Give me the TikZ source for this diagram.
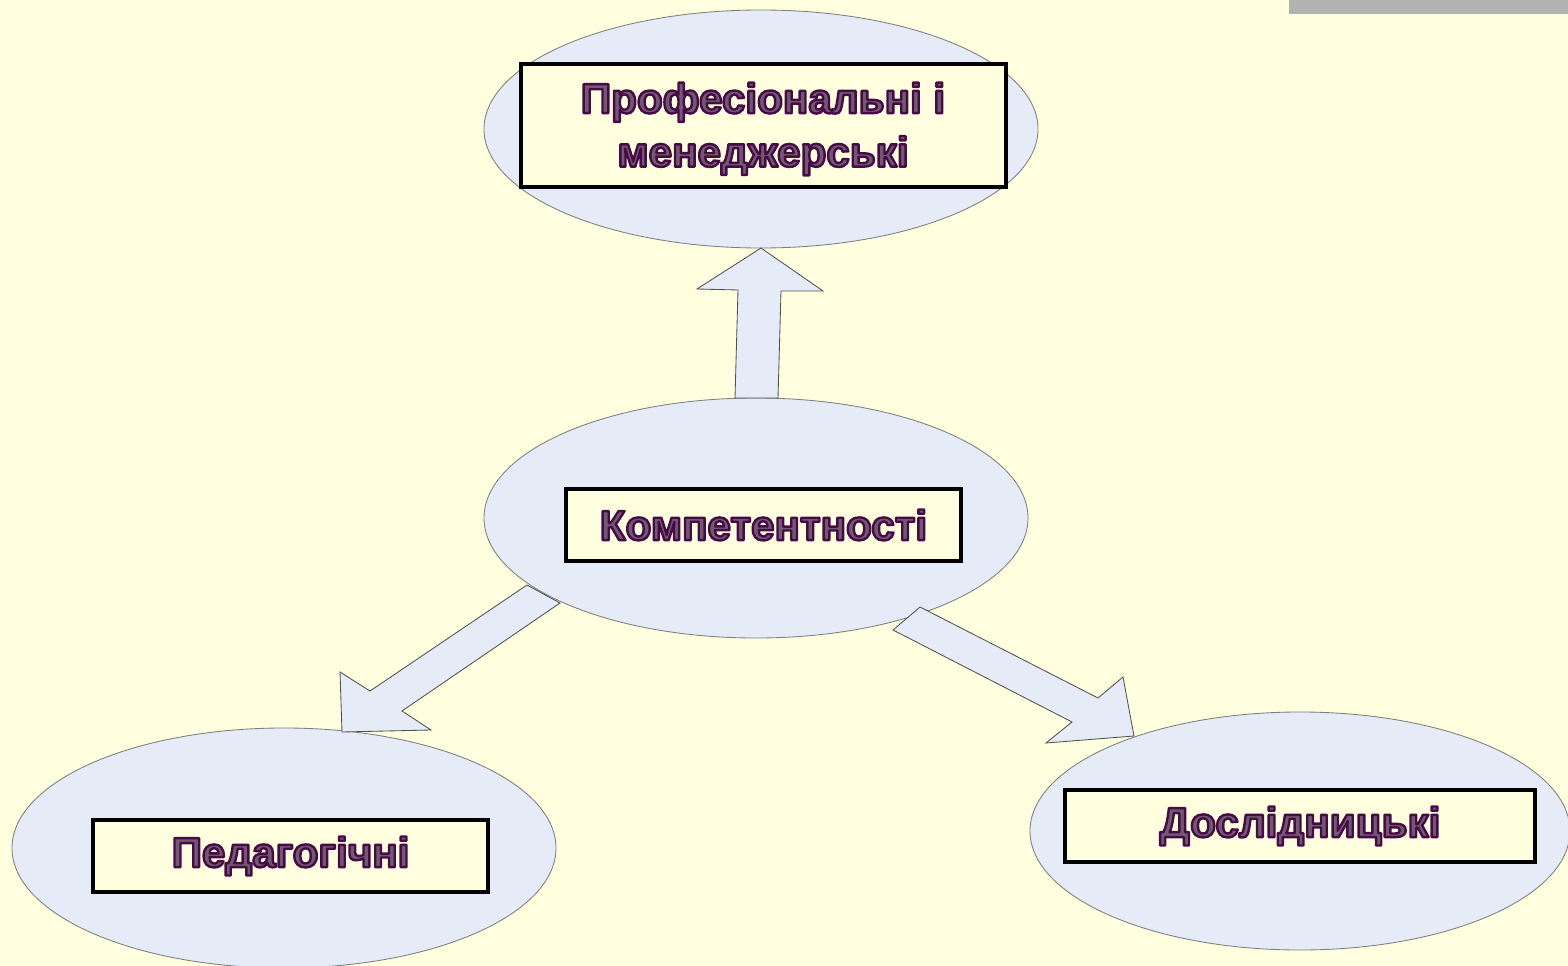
\documentclass[tikz,border=0pt]{standalone}
\usepackage{fontspec}
\setmainfont{Liberation Sans}
\usetikzlibrary{shapes.geometric}

\definecolor{paper}{RGB}{255,255,224}
\definecolor{bubble}{RGB}{229,236,248}
\definecolor{rim}{RGB}{125,125,125}
\definecolor{arrowrim}{RGB}{80,80,80}
\definecolor{inkfill}{RGB}{112,90,112}
\definecolor{topbar}{RGB}{178,178,178}

% outlined lettering: purple-grey glyphs stroked in dark purple
\newcommand\outlined[1]{{\color{inkfill}%
  \special{pdf:literal direct 0.28 0.04 0.28 RG 1.7 w 1 j 2 Tr}#1%
  \special{pdf:literal direct 0 Tr}}}

\tikzset{
  bubble/.style={ellipse, draw=rim, line width=0.6pt, fill=bubble, inner sep=0pt},
  labelbox/.style={draw=black, line width=2.8pt, fill=paper, inner sep=0pt,
    align=center, font=\bfseries\fontsize{30}{37}\selectfont},
  blockarrow/.style={draw=arrowrim, fill=bubble, line width=0.6pt, line join=miter},
}

\begin{document}
\begin{tikzpicture}[x=0.25mm, y=-0.25mm]
  % canvas
  \fill[paper] (0,0) rectangle (1568,966);
  \useasboundingbox (0,0) rectangle (1568,966);
  \clip (0,0) rectangle (1568,966);
  \fill[topbar] (1289,0) rectangle (1568,14);

  % ellipses
  \node[bubble, minimum width=138.5mm, minimum height=59.5mm] (eTop) at (761,129) {};
  \node[bubble, minimum width=136mm, minimum height=60mm] (eMid) at (756,518) {};
  \node[bubble, minimum width=136mm, minimum height=60mm] (eLeft) at (284,848) {};
  \node[bubble, minimum width=135mm, minimum height=59.5mm] (eRight) at (1300,831) {};

  % block arrows from the centre to the three groups
  \draw[blockarrow] (735,398) -- (738,290) -- (697,289) -- (761,248)
        -- (823,291) -- (781,291) -- (778,398) -- cycle;
  \draw[blockarrow] (527,585) -- (370,691) -- (340,672) -- (342,732)
        -- (431,730) -- (402,711) -- (560,603) -- cycle;
  \draw[blockarrow] (920,607) -- (1098,698) -- (1123,677) -- (1134,736)
        -- (1046,743) -- (1072,722) -- (893,630) -- cycle;

  % labels
  \node[labelbox, minimum width=121.25mm, minimum height=30.75mm] (bTop) at (763.5,125.5) {};
  \node[align=center, font=\bfseries\fontsize{30}{37}\selectfont, inner sep=0pt] (tTop) at (763,129)
    {\outlined{Професіональні і}\\[1pt]\outlined{менеджерські}};
  \node[labelbox, minimum width=98.75mm, minimum height=18mm] (bMid) at (763.5,525)
    {\outlined{Компетентності}};
  \node[labelbox, minimum width=98.75mm, minimum height=18mm] (bLeft) at (290.5,856)
    {\outlined{Педагогічні}};
  \node[labelbox, minimum width=117.5mm, minimum height=18mm] (bRight) at (1300,826)
    {\outlined{Дослідницькі}};
\end{tikzpicture}
\end{document}
